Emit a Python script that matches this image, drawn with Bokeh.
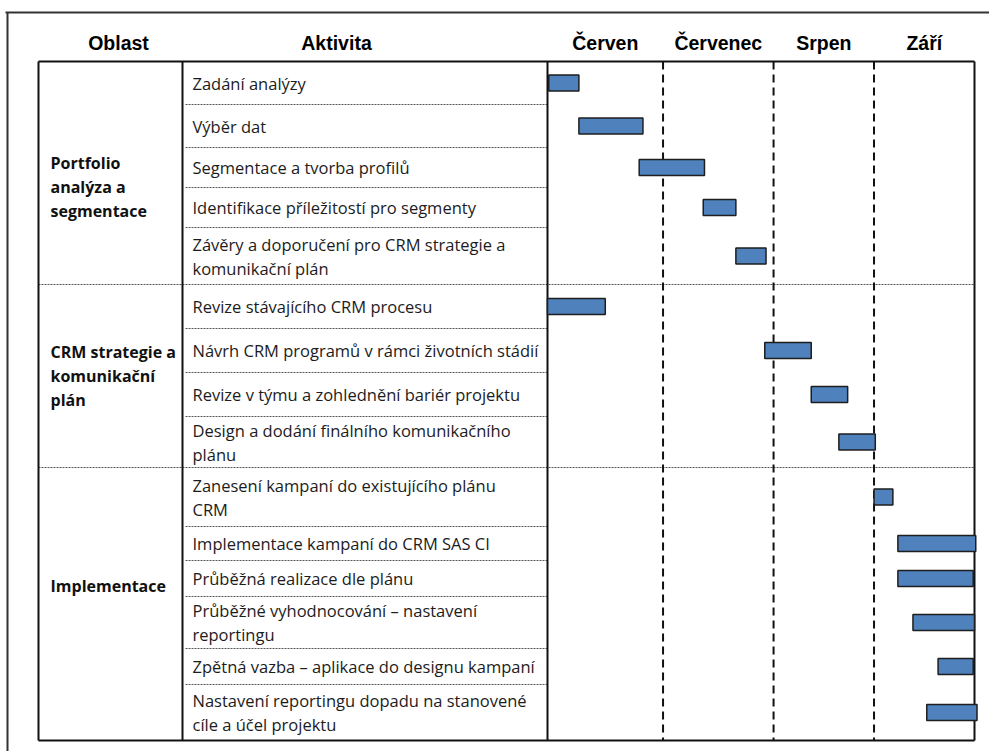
from bokeh.plotting import figure
from bokeh.models import Range1d, ColumnDataSource
from bokeh.core.properties import value
from bokeh.embed import file_html
from bokeh.resources import INLINE

# ---------------- data ----------------
areas = ["Portfolio\nanalýza a\nsegmentace", "CRM strategie a\nkomunikační\nplán", "Implementace"]
area_of_task = [0, 0, 0, 0, 0, 1, 1, 1, 1, 2, 2, 2, 2, 2, 2]
tasks = [
    "Zadání analýzy",
    "Výběr dat",
    "Segmentace a tvorba profilů",
    "Identifikace příležitostí pro segmenty",
    "Závěry a doporučení pro CRM strategie a\nkomunikační plán",
    "Revize stávajícího  CRM procesu",
    "Návrh CRM programů v rámci životních stádií",
    "Revize v týmu a zohlednění bariér projektu",
    "Design a dodání finálního komunikačního\nplánu",
    "Zanesení kampaní do existujícího plánu\nCRM",
    "Implementace kampaní do CRM SAS CI",
    "Průběžná realizace dle plánu",
    "Průběžné vyhodnocování – nastavení\nreportingu",
    "Zpětná vazba – aplikace do designu kampaní",
    "Nastavení reportingu dopadu na stanovené\ncíle a účel projektu",
]
# timeline in weeks from the start of June
start_wk = [0.05, 1.25, 3.65, 6.2, 7.5, 0.0, 8.65, 10.5, 11.6, 13.0, 13.95, 13.95, 14.55, 15.55, 15.1]
end_wk = [1.25, 3.8, 6.25, 7.5, 8.7, 2.3, 10.5, 11.95, 13.05, 13.75, 17.05, 16.95, 17.0, 16.95, 17.1]
months = ["Červen", "Červenec", "Srpen", "Září"]
month_start_wk = [0.0, 4.6, 9.0, 13.0]
month_end_wk = [4.6, 9.0, 13.0, 17.0]
headers = ["Oblast", "Aktivita"]

# ---------------- layout (page pixels) ----------------
W, H = 989, 751
TABLE_L, COL1, COL2, TABLE_R = 38, 182, 547, 974
TOP, BOTTOM = 61, 740
row_edges = [61, 104, 147, 187, 227, 284, 328, 372, 416, 467, 526, 560, 596, 648, 684, 740]
area_label_y = [186, 375, 585]
header_x = [118, 336]
HEADER_Y = 42
BAR_H = 16
LINE_GAP = 24

p = figure(width=W, height=H, output_backend="svg", toolbar_location=None,
           x_range=Range1d(0, W), y_range=Range1d(H, 0), min_border=0)
p.axis.visible = False
p.grid.visible = False
p.outline_line_color = None
p.background_fill_color = "white"

scale = (TABLE_R - COL2) / month_end_wk[-1]
p.extra_x_ranges = {"wk": Range1d(-COL2 / scale, (W - COL2) / scale)}

centers = [(row_edges[i] + row_edges[i + 1]) / 2 for i in range(len(tasks))]

# activity texts (drawn first; the chart column masks any overflow)
tx, ty, tt = [], [], []
for i, t in enumerate(tasks):
    lines = t.split("\n")
    n = len(lines)
    for k, ln in enumerate(lines):
        tx.append(COL1 + 10)
        ty.append(centers[i] + (k - (n - 1) / 2) * LINE_GAP)
        tt.append(ln)
p.text(x=tx, y=ty, text=tt, text_font=value("Open Sans"), text_font_size="16.5px",
       text_baseline="middle", text_align="left", text_color="#1c1c1c")

# white mask for the timeline column
p.quad(left=[COL2 + 1], right=[TABLE_R - 1], top=[TOP + 1], bottom=[BOTTOM - 1],
       fill_color="white", line_color=None)

# outer frame
p.segment(x0=[5, 7], y0=[12, 12], x1=[W, 7], y1=[12, H], line_color="#333333", line_width=2)

# row separators
group_edges = set()
for i in range(1, len(tasks)):
    if area_of_task[i] != area_of_task[i - 1]:
        group_edges.add(i)
inner_y = [row_edges[i] for i in range(1, len(tasks)) if i not in group_edges]
grp_y = [row_edges[i] for i in sorted(group_edges)]
p.segment(x0=[COL1 + 3] * len(inner_y), x1=[COL2] * len(inner_y), y0=inner_y, y1=inner_y,
          line_color="#555555", line_width=1, line_dash="2 1")
p.segment(x0=[TABLE_L] * len(grp_y), x1=[TABLE_R] * len(grp_y), y0=grp_y, y1=grp_y,
          line_color="#555555", line_width=1, line_dash="2 1")

# month dashed lines
p.segment(x0=month_start_wk[1:], x1=month_start_wk[1:], y0=[TOP] * 3, y1=[BOTTOM] * 3,
          x_range_name="wk", line_color="#111111", line_width=2, line_dash="8 5")

# table solid lines
p.segment(x0=[TABLE_L, COL1, COL2, TABLE_R], x1=[TABLE_L, COL1, COL2, TABLE_R],
          y0=[TOP] * 4, y1=[BOTTOM] * 4, line_color="#111111", line_width=2)
p.segment(x0=[TABLE_L, TABLE_L], x1=[TABLE_R, TABLE_R], y0=[TOP, BOTTOM], y1=[TOP, BOTTOM],
          line_color="#111111", line_width=2)

# bars
src = ColumnDataSource(dict(left=start_wk, right=end_wk,
                            top=[c - BAR_H / 2 for c in centers],
                            bottom=[c + BAR_H / 2 for c in centers]))
p.quad(left="left", right="right", top="top", bottom="bottom", source=src, x_range_name="wk",
       fill_color="#4F81BD", line_color="#1e1e1e", line_width=1.5)

# area texts
ax, ay, at = [], [], []
for j, a in enumerate(areas):
    lines = a.split("\n")
    n = len(lines)
    for k, ln in enumerate(lines):
        ax.append(TABLE_L + 12)
        ay.append(area_label_y[j] + (k - (n - 1) / 2) * LINE_GAP)
        at.append(ln)
p.text(x=ax, y=ay, text=at, text_font=value("Open Sans"), text_font_size="16px",
       text_font_style="bold", text_baseline="middle", text_align="left", text_color="#111111")

# headers
p.text(x=header_x, y=[HEADER_Y] * 2, text=headers, text_font=value("Liberation Sans"),
       text_font_size="19.5px", text_font_style="bold", text_baseline="middle",
       text_align="center", text_color="black")
mx = [(a + b) / 2 for a, b in zip(month_start_wk, month_end_wk)]
p.text(x=mx, y=[HEADER_Y] * 4, text=months, x_range_name="wk", text_font=value("Liberation Sans"),
       text_font_size="19.5px", text_font_style="bold", text_baseline="middle",
       text_align="center", text_color="black")

open("out.html", "w").write(file_html(p, INLINE))
